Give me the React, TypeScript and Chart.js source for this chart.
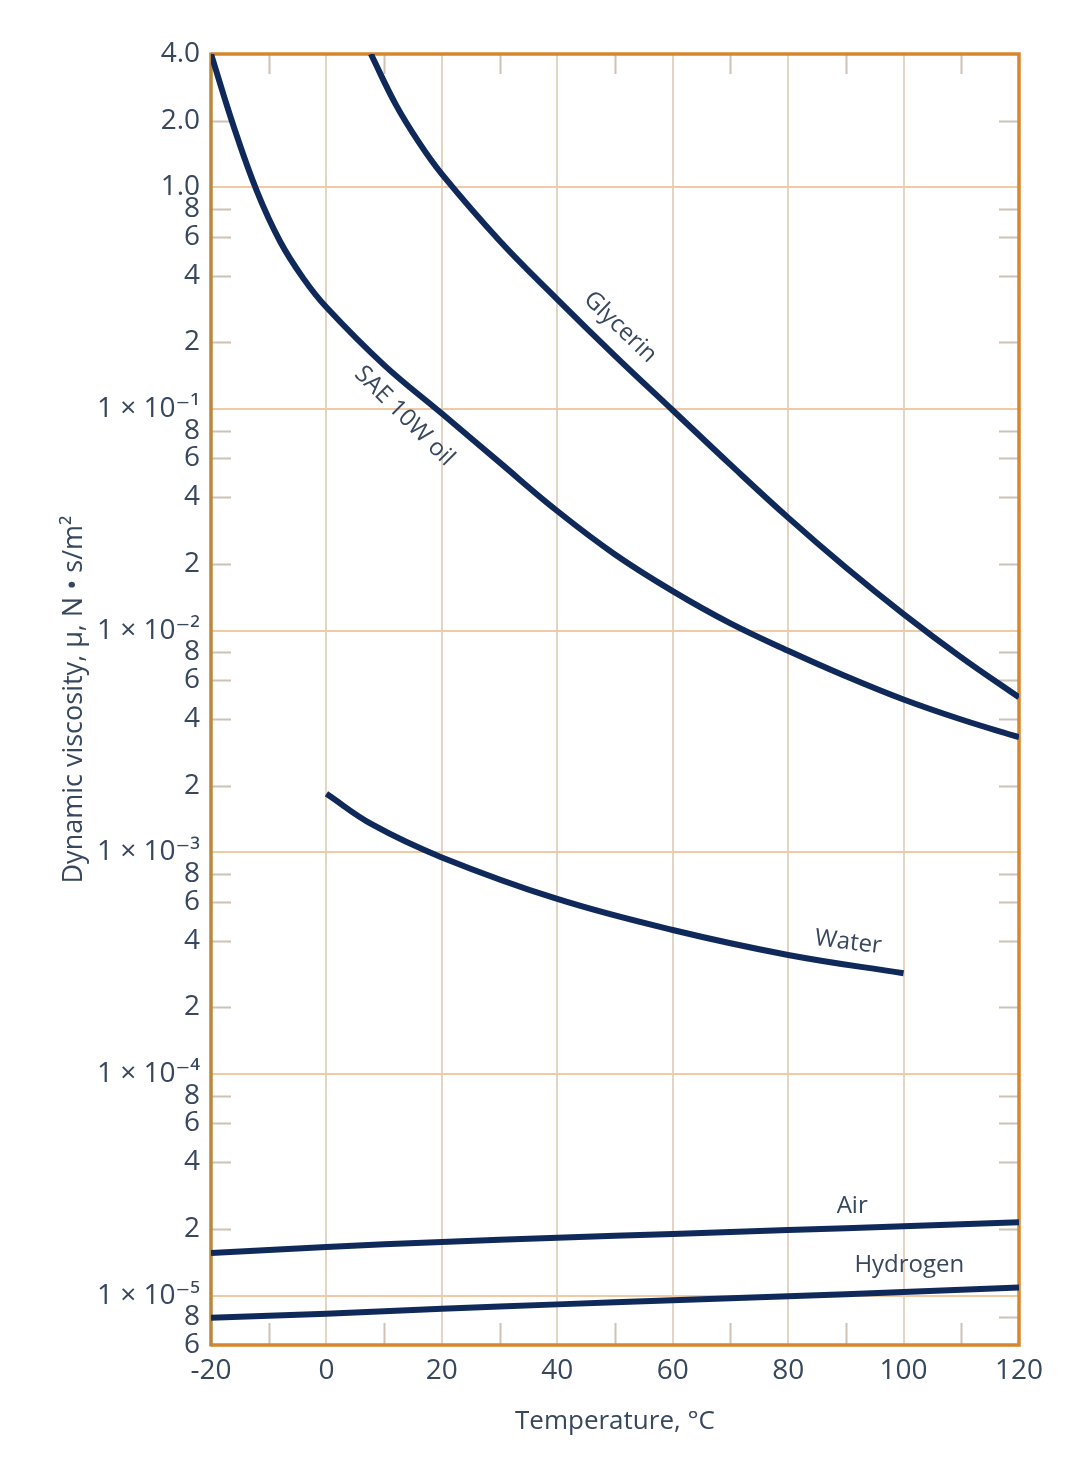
import React, { useEffect, useRef } from "react";
import { Chart, registerables } from "chart.js";

Chart.register(...registerables);

// ---------- data ----------
const oilT = [-20, -16, -12, -8, -4, 0, 10, 20, 30, 40, 50, 60, 70, 80, 90, 100, 110, 120];
const oilMu = [4.0, 1.86, 0.955, 0.569, 0.389, 0.288, 0.158, 0.0955, 0.0575, 0.0347, 0.0221, 0.0151, 0.0108, 0.00813, 0.00624, 0.0049, 0.00398, 0.00331];

const glycerinT = [7.7, 12, 16, 20, 30, 40, 50, 60, 70, 80, 90, 100, 110, 120];
const glycerinMu = [4.0, 2.37, 1.6, 1.148, 0.575, 0.313, 0.174, 0.0989, 0.0562, 0.0324, 0.0193, 0.0119, 0.00759, 0.00501];

const waterT = [0, 8, 20, 40, 60, 80, 100];
const waterMu = [0.00184, 0.001334, 0.00095, 0.000617, 0.000447, 0.000345, 0.000285];

const airT = [-20, 0, 20, 40, 60, 80, 100, 120];
const airMu = [1.56e-5, 1.66e-5, 1.75e-5, 1.83e-5, 1.9e-5, 1.98e-5, 2.06e-5, 2.15e-5];

const hydrogenT = [-20, 0, 20, 40, 60, 80, 100, 120];
const hydrogenMu = [7.96e-6, 8.3e-6, 8.75e-6, 9.15e-6, 9.55e-6, 9.95e-6, 1.04e-5, 1.09e-5];

const xTickValues = [-20, 0, 20, 40, 60, 80, 100, 120];
const xMinorTicks = [-10, 10, 30, 50, 70, 90, 110];

const yTickValues = [
  4.0, 2.0, 1.0, 0.8, 0.6, 0.4, 0.2,
  0.1, 0.08, 0.06, 0.04, 0.02,
  0.01, 0.008, 0.006, 0.004, 0.002,
  0.001, 0.0008, 0.0006, 0.0004, 0.0002,
  0.0001, 0.00008, 0.00006, 0.00004, 0.00002,
  0.00001, 0.000008, 0.000006,
];
const yTickLabels = [
  "4.0", "2.0", "1.0", "8", "6", "4", "2",
  "1 × 10⁻¹", "8", "6", "4", "2",
  "1 × 10⁻²", "8", "6", "4", "2",
  "1 × 10⁻³", "8", "6", "4", "2",
  "1 × 10⁻⁴", "8", "6", "4", "2",
  "1 × 10⁻⁵", "8", "6",
];

// curve labels: text, T, mu, rotation (deg)
const curveLabelText = ["Glycerin", "SAE 10W oil", "Water", "Air", "Hydrogen"];
const curveLabelT = [50.9, 13.5, 90.4, 91.1, 101];
const curveLabelMu = [0.234, 0.093, 3.93e-4, 2.54e-5, 1.38e-5];
const curveLabelRot = [44, 45, 7, 0, 0];

// ---------- styles ----------
const CURVE = "#0f2a5a";
const TEXT = "#37475e";
const FRAME = "#d8862e";
const FRAME_LEFT = "#b8883c";
const GRID_H = "#efcaa4";
const GRID_V = "#e4d5c3";
const MINOR = "#cdc2b6";
const FONT = "'Open Sans', 'DejaVu Sans', sans-serif";

const isDecade = (v: number) => {
  const l = Math.log10(v);
  return Math.abs(l - Math.round(l)) < 1e-6;
};

const toPts = (t: number[], m: number[]) => t.map((x, i) => ({ x, y: m[i] }));

const decorPlugin = {
  id: "decor",
  beforeDatasetsDraw(chart: any) {
    const { ctx, chartArea: a, scales } = chart;
    const x = scales.x;
    const y = scales.y;
    ctx.save();
    ctx.lineCap = "butt";
    ctx.strokeStyle = MINOR;
    ctx.lineWidth = 2;
    const minorY = yTickValues.filter(
      (v, i) => !isDecade(v) && i !== 0 && i !== yTickValues.length - 1
    );
    for (const v of minorY) {
      const py = Math.round(y.getPixelForValue(v)) + 0.5;
      ctx.beginPath();
      ctx.moveTo(a.left, py);
      ctx.lineTo(a.left + 20, py);
      ctx.moveTo(a.right - 20, py);
      ctx.lineTo(a.right, py);
      ctx.stroke();
    }
    for (const t of xMinorTicks) {
      const px = Math.round(x.getPixelForValue(t)) + 0.5;
      ctx.beginPath();
      ctx.moveTo(px, a.top);
      ctx.lineTo(px, a.top + 20);
      ctx.moveTo(px, a.bottom - 22);
      ctx.lineTo(px, a.bottom);
      ctx.stroke();
    }
    ctx.lineWidth = 3.5;
    ctx.strokeStyle = FRAME;
    ctx.beginPath();
    ctx.moveTo(a.left, a.top);
    ctx.lineTo(a.right, a.top);
    ctx.lineTo(a.right, a.bottom);
    ctx.lineTo(a.left, a.bottom);
    ctx.stroke();
    ctx.strokeStyle = FRAME_LEFT;
    ctx.beginPath();
    ctx.moveTo(a.left, a.top - 1.5);
    ctx.lineTo(a.left, a.bottom + 1.5);
    ctx.stroke();
    ctx.restore();
  },
  afterDatasetsDraw(chart: any) {
    const { ctx, scales } = chart;
    const x = scales.x;
    const y = scales.y;
    ctx.save();
    ctx.fillStyle = TEXT;
    ctx.font = `24px ${FONT}`;
    ctx.textAlign = "center";
    ctx.textBaseline = "middle";
    curveLabelText.forEach((txt, i) => {
      const px = x.getPixelForValue(curveLabelT[i]);
      const py = y.getPixelForValue(curveLabelMu[i]);
      ctx.save();
      ctx.translate(px, py);
      ctx.rotate((curveLabelRot[i] * Math.PI) / 180);
      ctx.fillText(txt, 0, 0);
      ctx.restore();
    });
    ctx.restore();
  },
};

export default function App() {
  const ref = useRef<HTMLCanvasElement | null>(null);

  useEffect(() => {
    if (!ref.current) return;
    const ds = (label: string, t: number[], m: number[]) => ({
      label,
      data: toPts(t, m),
      borderColor: CURVE,
      borderWidth: 6,
      pointRadius: 0,
      fill: false,
      tension: 0.4,
      borderCapStyle: "butt" as const,
    });
    const chart = new Chart(ref.current, {
      type: "line",
      data: {
        datasets: [
          ds("SAE 10W oil", oilT, oilMu),
          ds("Glycerin", glycerinT, glycerinMu),
          ds("Water", waterT, waterMu),
          ds("Air", airT, airMu),
          ds("Hydrogen", hydrogenT, hydrogenMu),
        ],
      },
      options: {
        responsive: false,
        devicePixelRatio: 1,
        animation: false,
        layout: { padding: { top: 54, right: 66, bottom: 0, left: 0 } },
        plugins: {
          legend: { display: false },
          tooltip: { enabled: false },
          title: { display: false },
        },
        scales: {
          x: {
            type: "linear",
            min: -20,
            max: 120,
            afterBuildTicks: (s: any) => {
              s.ticks = xTickValues.map((v) => ({ value: v }));
            },
            afterFit: (s: any) => {
              s.height = 129;
            },
            grid: { color: GRID_V, lineWidth: 2, drawTicks: false },
            border: { display: false },
            ticks: {
              color: TEXT,
              font: { size: 28, family: FONT },
              padding: 9,
              maxRotation: 0,
              autoSkip: false,
              callback: (v: any) => String(v),
            },
            title: {
              display: true,
              text: "Temperature, °C",
              color: TEXT,
              font: { size: 26, family: FONT },
              padding: { top: 0, bottom: 37 },
            },
          },
          y: {
            type: "logarithmic",
            min: 0.000006,
            max: 4.0,
            afterBuildTicks: (s: any) => {
              s.ticks = yTickValues.map((v) => ({ value: v }));
            },
            afterFit: (s: any) => {
              s.width = 211;
            },
            grid: {
              color: (c: any) =>
                c.tick && isDecade(c.tick.value) ? GRID_H : "rgba(0,0,0,0)",
              lineWidth: 2,
              drawTicks: false,
            },
            border: { display: false },
            ticks: {
              color: TEXT,
              font: { size: 28, family: FONT },
              padding: 11,
              autoSkip: false,
              callback: (_v: any, i: number) => yTickLabels[i],
            },
            title: {
              display: true,
              text: "Dynamic viscosity, μ, N • s/m²",
              color: TEXT,
              font: { size: 27, family: FONT },
              padding: { top: 58, bottom: 0 },
            },
          },
        },
      },
      plugins: [decorPlugin],
    });
    return () => chart.destroy();
  }, []);

  return (
    <div style={{ position: "absolute", left: 0, top: 0, width: 1085, height: 1474, background: "#fff" }}>
      <canvas ref={ref} width={1085} height={1474} style={{ display: "block", width: 1085, height: 1474 }} />
    </div>
  );
}
